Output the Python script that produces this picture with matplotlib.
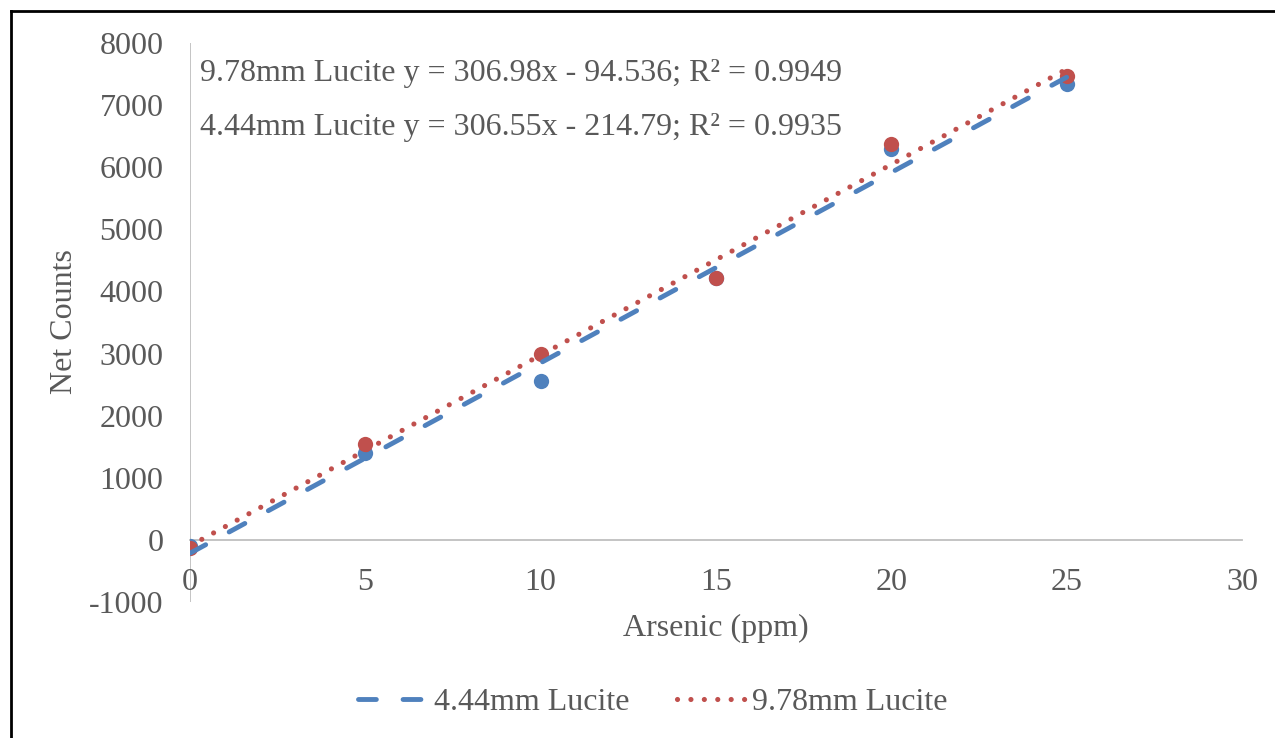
import numpy as np
import matplotlib
matplotlib.use("Agg")
import matplotlib.pyplot as plt
from matplotlib.lines import Line2D

# Calibration data: net counts vs arsenic concentration
arsenic_ppm = [0, 5, 10, 15, 20, 25]
counts_444 = [-105, 1400, 2560, 4212, 6300, 7340]
counts_978 = [-125, 1545, 2990, 4215, 6380, 7470]

# Linear trendline coefficients (slope, intercept, R^2)
fit_444 = (306.55, -214.79, 0.9935)
fit_978 = (306.98, -94.536, 0.9949)

series_names = ["4.44mm Lucite", "9.78mm Lucite"]
x_ticks = [0, 5, 10, 15, 20, 25, 30]
y_ticks = [-1000, 0, 1000, 2000, 3000, 4000, 5000, 6000, 7000, 8000]

BLUE = "#4F81BD"
RED = "#C0504D"
TXT = "#595959"
AXC = "#BFBFBF"

plt.rcParams["font.family"] = ["Liberation Serif", "DejaVu Serif"]
plt.rcParams["axes.unicode_minus"] = False
FS = 23

W, H = 1275, 738
fig = plt.figure(figsize=(W / 100, H / 100), dpi=100)
ax = fig.add_axes([190 / W, 1 - 602 / H, (1242 - 190) / W, (602 - 43) / H])

ax.set_xlim(0, 30)
ax.set_ylim(-1000, 8000)

# markers first, trendlines on top
ax.plot(arsenic_ppm, counts_444, "o", color=BLUE, ms=11, mec="none", zorder=3)
ax.plot(arsenic_ppm, counts_978, "o", color=RED, ms=11, mec="none", zorder=3)

xs = np.array([arsenic_ppm[0], arsenic_ppm[-1]])
lw = 3.5
ax.plot(xs, fit_444[0] * xs + fit_444[1], color=BLUE, lw=lw,
        linestyle=(0, (3.67, 5.5)), dash_capstyle="round", zorder=4,
        label=series_names[0])
ax.plot(xs, fit_978[0] * xs + fit_978[1], color=RED, lw=3.7,
        linestyle=(0, (0.01, 2.6)), dash_capstyle="round", zorder=5,
        label=series_names[1])

# axes through the origin
for s in ["top", "right", "left"]:
    ax.spines[s].set_visible(False)
ax.spines["bottom"].set_position(("data", 0))
ax.spines["bottom"].set_color(AXC)
ax.spines["bottom"].set_linewidth(1.3)
ax.axvline(0, color=AXC, lw=1.3, zorder=1)

ax.set_xticks(x_ticks)
ax.set_yticks(y_ticks)
ax.tick_params(axis="x", length=0, pad=20, labelsize=FS, labelcolor=TXT)
ax.tick_params(axis="y", length=0, pad=19, labelsize=FS, labelcolor=TXT)

def eq_text(name, fit):
    slope, icpt, r2 = fit
    sign = "-" if icpt < 0 else "+"
    return f"{name} y = {slope:g}x {sign} {abs(icpt):g}; R² = {r2:g}"

fig.text(200 / W, 1 - 73 / H, eq_text(series_names[1], fit_978),
         fontsize=FS, color=TXT, ha="left", va="center")
fig.text(200 / W, 1 - 127 / H, eq_text(series_names[0], fit_444),
         fontsize=FS, color=TXT, ha="left", va="center")

fig.text(716 / W, 1 - 628 / H, "Arsenic (ppm)", fontsize=FS, color=TXT,
         ha="center", va="center")
fig.text(65 / W, 1 - 322 / H, "Net Counts", fontsize=FS, color=TXT,
         ha="center", va="center", rotation=90)

leg = fig.legend(loc="center", bbox_to_anchor=(653 / W, 1 - 702 / H),
                 ncol=2, frameon=False, fontsize=FS, handlelength=2.2,
                 handletextpad=0.15, columnspacing=1.5)
for t in leg.get_texts():
    t.set_color(TXT)

# chart border
bx, by = 11 / W, 1 - 11 / H
fig.add_artist(Line2D([bx, bx], [0, by], color="black", lw=2, transform=fig.transFigure))
fig.add_artist(Line2D([bx, 1], [by, by], color="black", lw=2, transform=fig.transFigure))

fig.savefig("out.png", dpi=100)
